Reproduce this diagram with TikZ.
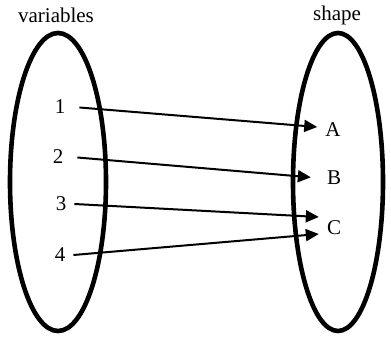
\documentclass[tikz,border=0pt]{standalone}
\usepackage{fontspec}
\setmainfont{Liberation Serif}
\usetikzlibrary{arrows.meta, shapes.geometric}

\begin{document}
\begin{tikzpicture}[
  x=1pt, y=-1pt,
  font=\fontsize{21}{25}\selectfont,
  >={Triangle[length=13pt, width=12pt]},
  setbox/.style ={ellipse, draw=black, line width=4.6pt, inner sep=0pt},
  title/.style  ={inner sep=0pt},
  elem/.style   ={inner sep=0pt, inner xsep=8pt},
  arr/.style    ={->, line width=2pt, draw=black}
]
\useasboundingbox (0,0) rectangle (391,339);

% ---- the two sets ----
\node[setbox, minimum width=96pt,  minimum height=298pt] (vars)  at (58,182)  {};
\node[setbox, minimum width=90pt,  minimum height=298pt] (shp)   at (338,182) {};
\node[title] (varlbl) at (56,15)  {variables};
\node[title] (shplbl) at (337,15) {shape};

% ---- elements ----
\node[elem] (n1) at (60,107) {1};
\node[elem] (n2) at (58,157) {2};
\node[elem] (n3) at (61,204) {3};
\node[elem] (n4) at (60,255) {4};

\node[elem] (a) at (333,130) {A};
\node[elem] (b) at (334,178) {B};
\node[elem] (c) at (334,228) {C};

% ---- mapping ----
\draw[arr, shorten <=6pt] (n1.east) -- ([yshift=3pt]a.west);
\draw[arr, shorten <=6pt, shorten >=8pt] (n2.east) -- (b.west);
\draw[arr] (n3.east) -- ([yshift=11pt]c.west);
\draw[arr] (n4.east) -- ([yshift=-6pt]c.west);

\end{tikzpicture}
\end{document}
